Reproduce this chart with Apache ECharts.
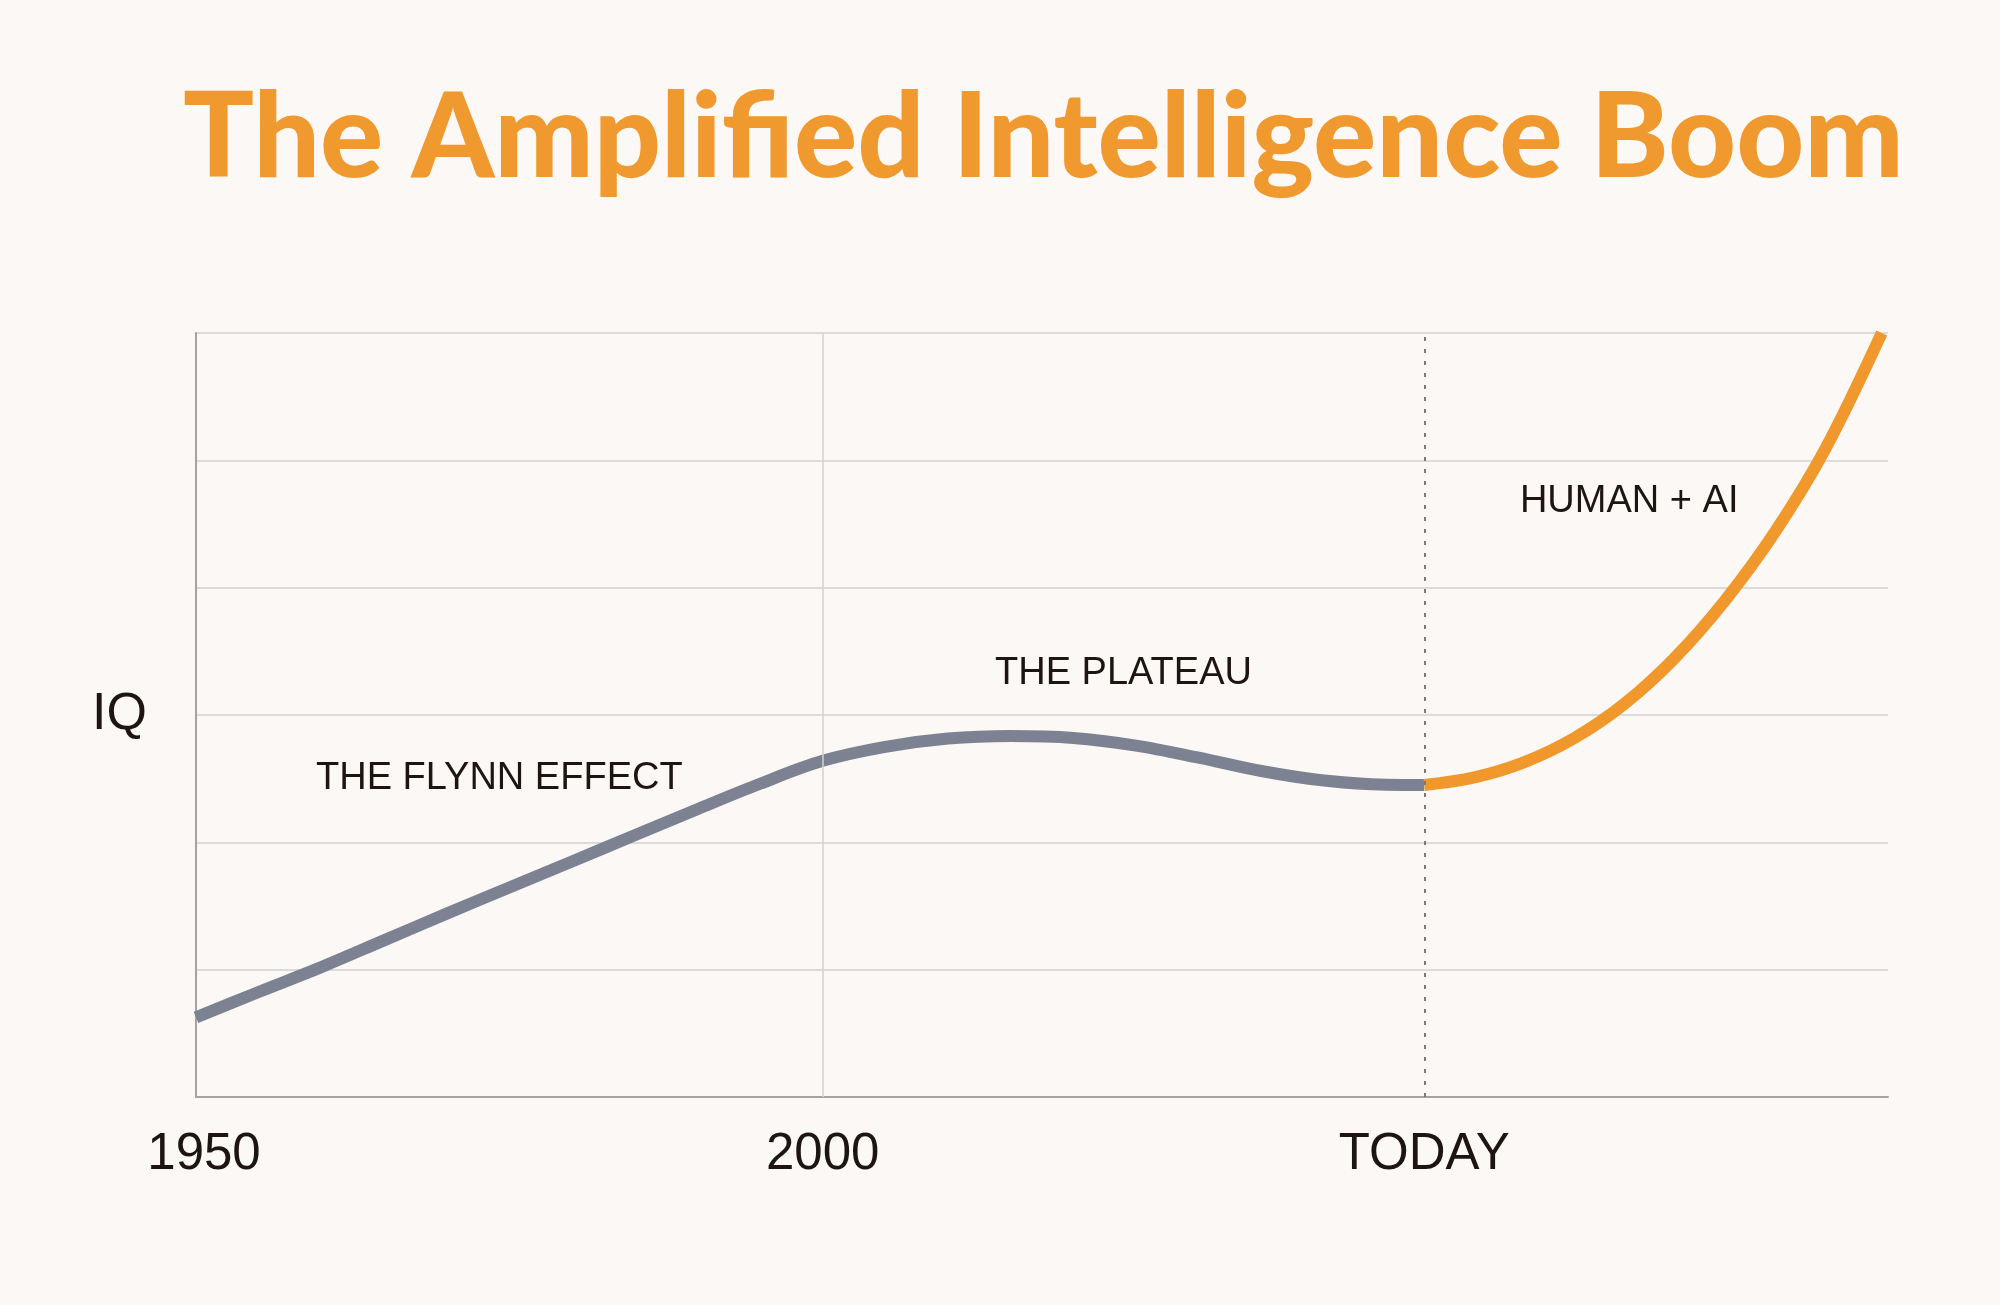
<!DOCTYPE html>
<html>
<head>
<meta charset="utf-8">
<script src="https://cdn.jsdelivr.net/npm/echarts@6/dist/echarts.min.js"></script>
<style>
html,body{margin:0;padding:0;background:#FBF8F5;}
#chart{width:2000px;height:1305px;}
</style>
</head>
<body>
<div id="chart"></div>
<script>
// ---- data ----
var grayYears = [1950,1955,1960,1965,1970,1975,1980,1985,1990,1995,2000,2005,2010,2015,2020,2025,2030,2035,2040,2045,2048];
var grayIQ    = [76.25,78.25,80.2,82.3,84.4,86.45,88.5,90.55,92.6,94.6,96.4,97.5,98.15,98.35,98.2,97.6,96.65,95.6,94.85,94.52,94.5];
var aiYears   = [2048,2052,2056,2060,2064,2068,2072,2076,2080,2084.5];
var aiIQ      = [94.5,95.1,96.3,98.2,100.9,104.5,109.0,114.4,120.9,130];
var tickValues = [1950, 2000, 2048];
var tickLabels = ['1950', '2000', 'TODAY'];
var annoLabels = ['THE FLYNN EFFECT', 'THE PLATEAU', 'HUMAN + AI'];
var annoX = [1974.2, 2024.0, 2064.35];
var annoY = [95.05, 103.25, 116.8];
var titleText = 'The Amplified Intelligence Boom';
var yName = 'IQ';

function zip(a, b){ return a.map(function(v,i){ return [v, b[i]]; }); }

var chart = echarts.init(document.getElementById('chart'));
var txt = '#1E1512';
chart.setOption({
  backgroundColor: '#FBF8F5',
  animation: false,
  title: {
    text: titleText,
    left: 178,
    top: 75,
    textStyle: {
      fontFamily: 'Lato',
      fontWeight: 900,
      fontSize: 118,
      color: '#F0992F'
    }
  },
  grid: { left: 196, right: 112, top: 333, bottom: 208, containLabel: false },
  xAxis: {
    type: 'value',
    min: 1950,
    max: 2085,
    axisLine: { show: true, lineStyle: { color: '#A3A3A3', width: 2 } },
    axisTick: { show: false },
    splitLine: { show: false },
    axisLabel: {
      customValues: tickValues,
      formatter: function(v){
        var i = tickValues.indexOf(v);
        if (i < 0) return '';
        return i === 0 ? '{first|' + tickLabels[i] + '}' : tickLabels[i];
      },
      rich: {
        first: { fontFamily: 'Liberation Sans', fontSize: 51, color: txt, padding: [0, 0, 0, 16] }
      },
      fontFamily: 'Liberation Sans',
      fontSize: 51,
      color: txt,
      margin: 32
    }
  },
  yAxis: {
    type: 'value',
    min: 70,
    max: 130,
    interval: 10,
    name: yName,
    nameLocation: 'middle',
    nameRotate: 0,
    nameGap: 49,
    nameTextStyle: { fontFamily: 'Liberation Sans', fontSize: 52, color: txt },
    axisLine: { show: true, lineStyle: { color: '#A3A3A3', width: 2 } },
    axisTick: { show: false },
    axisLabel: { show: false },
    splitLine: { show: true, lineStyle: { color: '#D2D2D2', width: 1.5 } }
  },
  series: [
    {
      type: 'line',
      data: [],
      z: 1,
      silent: true,
      markLine: {
        silent: true,
        symbol: 'none',
        label: { show: false },
        data: [
          { xAxis: tickValues[1], lineStyle: { color: '#D2D2D2', width: 1.5, type: 'solid' } },
          { xAxis: tickValues[2], lineStyle: { color: '#7A7A7A', width: 2, type: [4, 8] } }
        ]
      }
    },
    {
      type: 'line',
      data: zip(grayYears, grayIQ),
      smooth: 0.35,
      showSymbol: false,
      z: 3,
      lineStyle: { color: '#7C8291', width: 12, cap: 'butt' }
    },
    {
      type: 'line',
      data: zip(aiYears, aiIQ),
      smooth: 0.35,
      showSymbol: false,
      z: 3,
      lineStyle: { color: '#F0982C', width: 12, cap: 'butt' }
    },
    {
      type: 'scatter',
      symbolSize: 0,
      z: 4,
      silent: true,
      itemStyle: { opacity: 1 },
      data: annoLabels.map(function(n, i){ return { name: n, value: [annoX[i], annoY[i]] }; }),
      label: {
        show: true,
        position: 'inside',
        formatter: '{b}',
        fontFamily: 'Liberation Sans',
        fontSize: 38,
        color: txt,
        opacity: 1,
        textBorderWidth: 0
      }
    }
  ]
});
</script>
</body>
</html>
